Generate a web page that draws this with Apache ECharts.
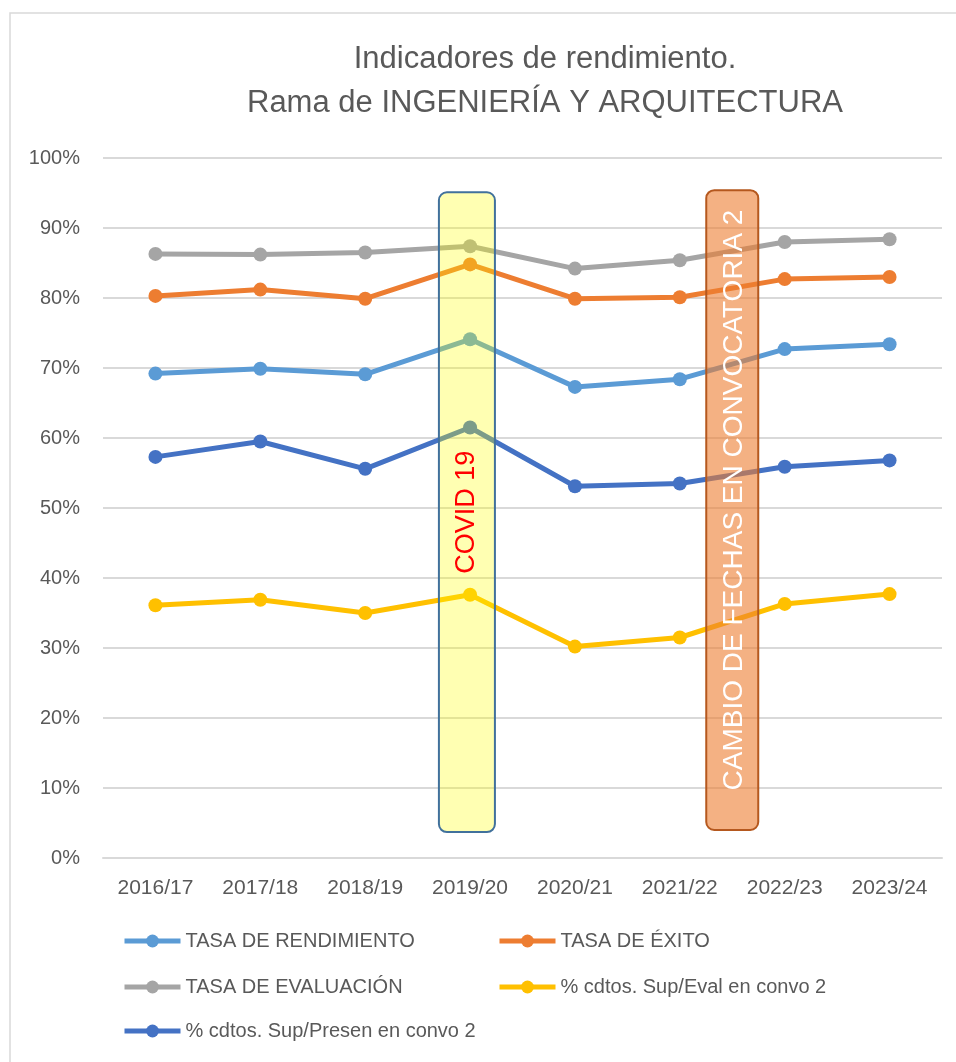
<!DOCTYPE html>
<html><head><meta charset="utf-8">
<script src="https://cdn.jsdelivr.net/npm/echarts@6/dist/echarts.min.js"></script>
<style>html,body{margin:0;padding:0;background:#fff}#c{width:956px;height:1062px}</style>
</head><body><div id="c"></div>
<script>
const categories = ['2016/17','2017/18','2018/19','2019/20','2020/21','2021/22','2022/23','2023/24'];
const tasaRendimiento = [69.2, 69.9, 69.1, 74.1, 67.3, 68.4, 72.7, 73.4];
const tasaExito       = [80.3, 81.2, 79.9, 84.8, 79.9, 80.1, 82.7, 83.0];
const tasaEvaluacion  = [86.3, 86.2, 86.5, 87.4, 84.2, 85.4, 88.0, 88.4];
const supEval         = [36.1, 36.9, 35.0, 37.6, 30.2, 31.5, 36.3, 37.7];
const supPresen       = [57.3, 59.5, 55.6, 61.5, 53.1, 53.5, 55.9, 56.8];
const seriesNames = ['TASA DE RENDIMIENTO','TASA DE ÉXITO','TASA DE EVALUACIÓN','% cdtos. Sup/Eval en convo 2','% cdtos. Sup/Presen en convo 2'];
const yTicks = [0,10,20,30,40,50,60,70,80,90,100];
const titleLines = ['Indicadores de rendimiento.','Rama de INGENIERÍA Y ARQUITECTURA'];
const covidLabel = 'COVID 19';
const cambioLabel = 'CAMBIO DE FECHAS EN CONVOCATORIA 2';

const FONT = "'Liberation Sans', Arial, sans-serif";
const colors = ['#5B9BD5','#ED7D31','#A5A5A5','#FFC000','#4472C4'];
const seriesData = [tasaRendimiento, tasaExito, tasaEvaluacion, supEval, supPresen];

const chart = echarts.init(document.getElementById('c'), null, {renderer:'canvas'});

const legendPos = [
  {left:122, top:931}, {left:497, top:931},
  {left:122, top:977}, {left:497, top:977},
  {left:122, top:1021}
];

const option = {
  animation:false,
  backgroundColor:'#fff',
  color: colors,
  title: {
    text: titleLines.join('\n'),
    left: 540, top: 32, textAlign:'center',
    textStyle:{fontFamily:FONT, fontSize:31, fontWeight:'normal', color:'#595959', lineHeight:44}
  },
  legend: seriesNames.map((n,i)=>({
    data:[n], left:legendPos[i].left, top:legendPos[i].top, padding:0,
    itemWidth:56, itemHeight:16, itemGap:0,
    lineStyle:{width:5},
    textStyle:{fontFamily:FONT, fontSize:20, color:'#595959'}
  })),
  grid:{left:103, right:14, top:158, bottom:204, containLabel:false},
  xAxis:{
    type:'category', data:categories, boundaryGap:true,
    axisLine:{lineStyle:{color:'#D9D9D9', width:2}},
    axisTick:{show:false},
    axisLabel:{fontFamily:FONT, fontSize:21, color:'#595959', margin:20}
  },
  yAxis:{
    type:'value', min:yTicks[0], max:yTicks[yTicks.length-1], interval:yTicks[1]-yTicks[0],
    axisLine:{show:false}, axisTick:{show:false},
    axisLabel:{fontFamily:FONT, fontSize:20, color:'#595959', margin:23, formatter:'{value}%'},
    splitLine:{lineStyle:{color:'#D9D9D9', width:2}}
  },
  series: seriesNames.map((n,i)=>({
    name:n, type:'line', data:seriesData[i],
    symbol:'circle', symbolSize:14,
    lineStyle:{width:5, color:colors[i]},
    itemStyle:{color:colors[i]},
    z: 2 + (i===0?3:i===1?2:i===2?1:0)
  }))
};
chart.setOption(option);

function catX(idx){
  const i0 = Math.floor(idx), f = idx - i0;
  const a = chart.convertToPixel({xAxisIndex:0}, categories[i0]);
  const b = chart.convertToPixel({xAxisIndex:0}, categories[Math.min(i0+1, categories.length-1)]);
  return a + (b-a)*f;
}
function valY(v){ return chart.convertToPixel({yAxisIndex:0}, v); }

const covX = catX(2.97), covTop = valY(95.1), covBot = valY(3.7);
const camX = catX(5.5), camTop = valY(95.4), camBot = valY(4.0);

chart.setOption({
  graphic:[
    {type:'rect', silent:true, z:-10, shape:{x:10, y:13, width:1000, height:1100},
     style:{fill:'none', stroke:'#D9D9D9', lineWidth:1.5}},
    {type:'rect', z:100, shape:{x:covX-28, y:covTop, width:56, height:covBot-covTop, r:8},
     style:{fill:'rgba(255,255,0,0.3)', stroke:'#41719C', lineWidth:2}},
    {type:'text', z:101, x:covX, y:(covTop+covBot)/2 - 0, rotation:Math.PI/2,
     style:{text:covidLabel, fill:'#FF0000', font:"27px "+FONT, textAlign:'center', textVerticalAlign:'middle'}},
    {type:'rect', z:100, shape:{x:camX-26, y:camTop, width:52, height:camBot-camTop, r:8},
     style:{fill:'rgba(237,125,49,0.6)', stroke:'#B5581E', lineWidth:2}},
    {type:'text', z:101, x:camX+2, y:500, rotation:Math.PI/2,
     style:{text:cambioLabel, fill:'#FFFFFF', font:"28px "+FONT, textAlign:'center', textVerticalAlign:'middle'}}
  ]
});
</script></body></html>
